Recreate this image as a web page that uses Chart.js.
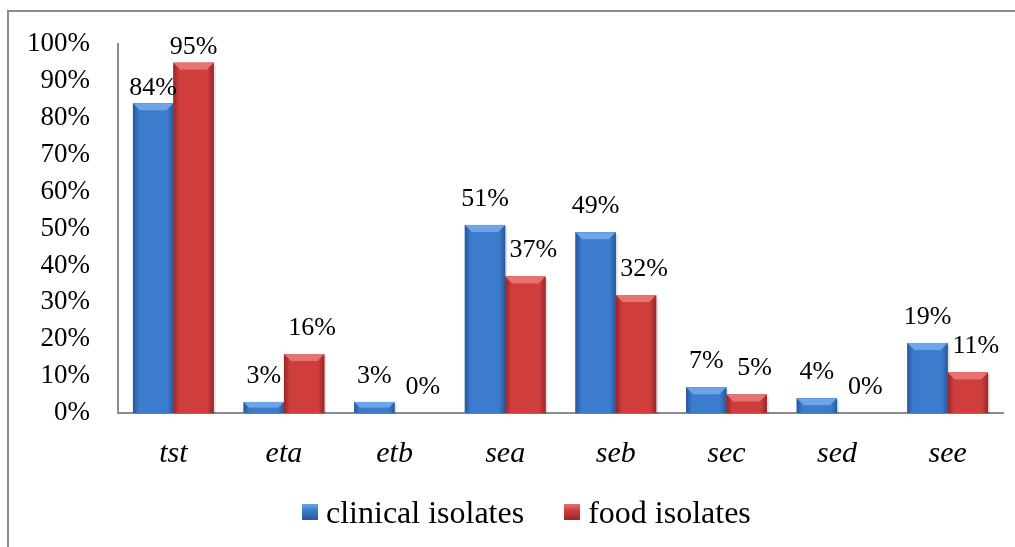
<!DOCTYPE html>
<html>
<head>
<meta charset="utf-8">
<script src="https://cdn.jsdelivr.net/npm/chart.js@4.4.1/dist/chart.umd.min.js"></script>
<style>
  html, body { margin: 0; padding: 0; background: #fff; overflow: hidden; }
  #wrap { position: relative; width: 1015px; height: 547px; }
  #frame {
    position: absolute; left: 7px; top: 10px; width: 1100px; height: 600px;
    border-top: 2px solid #8c8c8c; border-left: 2px solid #8c8c8c;
  }
  #legend {
    position: absolute; left: 302px; top: 496px; height: 32px;
    display: flex; align-items: center;
    font-family: 'Liberation Serif', 'Times New Roman', serif; font-size: 32px; line-height: 32px; color: #000;
  }
  #legend .item { display: flex; align-items: center; margin-right: 40px; }
  #legend .box { width: 16px; height: 16px; margin-right: 8px; }
</style>
</head>
<body>
<div id="wrap">
  <div id="frame"></div>
  <canvas id="chart" width="1015" height="547"></canvas>
  <div id="legend"></div>
</div>
<script>
const categories = ['tst', 'eta', 'etb', 'sea', 'seb', 'sec', 'sed', 'see'];
const clinicalIsolates = [84, 3, 3, 51, 49, 7, 4, 19];
const foodIsolates = [95, 16, 0, 37, 32, 5, 0, 11];
const seriesNames = ['clinical isolates', 'food isolates'];
const yMax = 100;
const yStep = 10;

const serif = "'Liberation Serif', 'Times New Roman', serif";

// edge / middle / top-bevel shades for each series
const palettes = [
  { edge: '#28579a', mid: '#3c7ccd', top: '#6ea5e6' },
  { edge: '#962626', mid: '#cf3d3d', top: '#e67272' }
];

// draws the bevelled look of the bars over the plain bars
const bevelBars = {
  id: 'bevelBars',
  afterDatasetsDraw(chart) {
    const ctx = chart.ctx;
    chart.data.datasets.forEach((ds, di) => {
      const meta = chart.getDatasetMeta(di);
      const pal = palettes[di];
      meta.data.forEach((bar) => {
        const p = bar.getProps(['x', 'y', 'base', 'width'], true);
        const x0 = p.x - p.width / 2, x1 = p.x + p.width / 2;
        const h = p.base - p.y;
        if (h < 0.5) return;
        ctx.save();
        // soft shadow
        ctx.fillStyle = 'rgba(0,0,0,0.12)';
        ctx.fillRect(x0 + 2, p.y + 2, p.width, h - 1);
        const g = ctx.createLinearGradient(x0, 0, x1, 0);
        g.addColorStop(0, pal.edge);
        g.addColorStop(0.15, pal.mid);
        g.addColorStop(0.85, pal.mid);
        g.addColorStop(1, pal.edge);
        ctx.fillStyle = g;
        ctx.fillRect(x0, p.y, p.width, h);
        const b = Math.min(7, h / 2);
        ctx.beginPath();
        ctx.moveTo(x0, p.y);
        ctx.lineTo(x1, p.y);
        ctx.lineTo(x1 - b, p.y + b);
        ctx.lineTo(x0 + b, p.y + b);
        ctx.closePath();
        ctx.fillStyle = pal.top;
        ctx.fill();
        ctx.restore();
      });
    });
  }
};

// percentage labels above each bar
const valueLabels = {
  id: 'valueLabels',
  afterDatasetsDraw(chart) {
    const ctx = chart.ctx;
    ctx.save();
    ctx.font = '26px ' + serif;
    ctx.fillStyle = '#000';
    ctx.textAlign = 'center';
    ctx.textBaseline = 'middle';
    chart.data.datasets.forEach((ds, di) => {
      const meta = chart.getDatasetMeta(di);
      meta.data.forEach((bar, i) => {
        const v = ds.data[i];
        const p = bar.getProps(['x', 'y'], true);
        const dy = v > 80 ? 15 : 26;
        const dx = di === 1 && v <= 80 ? 8 : 0;
        ctx.fillText(v + '%', p.x + dx, p.y - dy);
      });
    });
    ctx.restore();
  }
};

const chart = new Chart(document.getElementById('chart'), {
  type: 'bar',
  data: {
    labels: categories,
    datasets: [
      { label: seriesNames[0], data: clinicalIsolates, backgroundColor: palettes[0].mid, borderWidth: 0 },
      { label: seriesNames[1], data: foodIsolates, backgroundColor: palettes[1].mid, borderWidth: 0 }
    ]
  },
  options: {
    responsive: false,
    animation: false,
    layout: { padding: { left: 0, right: 12, top: 41, bottom: 74 } },
    datasets: { bar: { categoryPercentage: 0.73, barPercentage: 1 } },
    plugins: { legend: { display: false }, tooltip: { enabled: false } },
    scales: {
      x: {
        grid: { display: false, drawTicks: false },
        border: { display: true, color: '#8c8c8c', width: 2 },
        ticks: { color: '#000', padding: 23, font: { family: serif, size: 30, style: 'italic' } },
        afterFit(s) { s.height = 60; }
      },
      y: {
        min: 0,
        max: yMax,
        grid: { display: false, drawTicks: false },
        border: { display: true, color: '#8c8c8c', width: 2 },
        ticks: {
          stepSize: yStep,
          color: '#000',
          padding: 28,
          font: { family: serif, size: 27 },
          callback: (v) => v + '%'
        },
        afterFit(s) { s.width = 118; }
      }
    }
  },
  plugins: [bevelBars, valueLabels]
});

// html legend built from the datasets
const legendEl = document.getElementById('legend');
chart.data.datasets.forEach((ds, di) => {
  const item = document.createElement('div');
  item.className = 'item';
  const box = document.createElement('span');
  box.className = 'box';
  box.style.background = 'linear-gradient(180deg, ' + palettes[di].top + ' 0%, ' + palettes[di].mid + ' 40%, ' + palettes[di].edge + ' 100%)';
  const txt = document.createElement('span');
  txt.textContent = ds.label;
  item.appendChild(box);
  item.appendChild(txt);
  legendEl.appendChild(item);
});
</script>
</body>
</html>
